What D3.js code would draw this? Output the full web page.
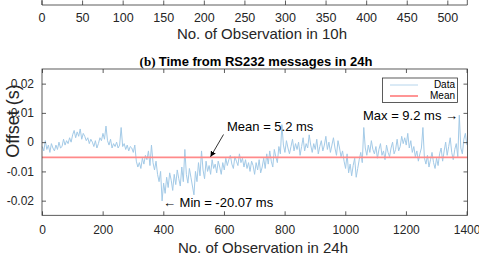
<!DOCTYPE html>
<html>
<head>
<meta charset="utf-8">
<script src="https://cdn.jsdelivr.net/npm/d3@7"></script>
<style>
  body { margin: 0; background: #fff; }
  svg { display: block; font-family: "Liberation Sans", Arial, sans-serif; }
</style>
</head>
<body>
<div id="chart"></div>
<script>
// 顶部残留：图(a)的横轴
const topTicks = [0, 50, 100, 150, 200, 250, 300, 350, 400, 450, 500];
const topXLabel = "No. of Observation in 10h";

// 图(b)：24h 内 RS232 时间偏差 (ms)，每 5 个观测取一个读数
const offsetMs = [
  -1.5, -3.0, 0.5, -2.5, -1.0, -3.5, -0.5, -2.0, -3.0, -1.0, -2.5, 0.0, -2.0, -1.5, 1.0, -1.0, 0.5, -0.5, 1.5, 0.0,
  2.5, 4.0, 1.5, 3.5, 2.0, 4.5, 1.0, 3.0, 2.0, 0.5, 1.5, -0.5, 1.0, 0.0, -1.5, 0.5, -2.0, -0.5, 1.5, 0.5,
  3.0, 1.0, 5.5, 0.5, -1.0, 1.0, -2.0, -0.5, -1.5, 0.0, -2.0, -1.0, 5.0, -1.5, -0.5, -2.5, -1.0, -3.0, -1.5, -2.0,
  -3.5, -1.0, -6.5, -8.5, -7.0, -9.0, -5.5, -7.5, -4.5, -6.0, -3.0, -8.0, -1.0, -7.0, -9.5, -6.5, -11.0, -13.5, -10.0, -20.07,
  -14.0, -17.5, -12.0, -15.5, -10.5, -13.0, -16.5, -11.0, -14.5, -9.5, -12.5, -15.0, -8.5, -13.5, -2.5, -11.0, -14.0, -9.0, -12.0, -15.0,
  -18.0, -10.0, -13.5, -7.0, -11.5, -3.0, -9.5, -12.5, -6.5, -10.0, -8.0, -11.0, -6.0, -9.0, -7.5, -10.5, -6.5, -8.5, -11.0, -7.0,
  -9.5, -5.5, -8.0, -6.0, -4.5, -7.5, -9.0, -5.0, -6.5, -8.0, -4.0, -7.0, -5.5, -8.5, -6.0, -9.0, -7.0, -10.0, -6.5, -8.0,
  -11.0, -7.0, -9.5, -6.0, -10.5, -8.5, -5.5, -9.0, -4.0, -7.5, -3.0, -6.5, -8.5, -2.5, -5.0, -7.0, -1.5, -4.0, 6.0, -1.0,
  -3.5, 0.5, -2.0, -4.0, -1.5, 1.0, -3.0, -0.5, -2.5, 0.0, -4.5, -1.5, 1.5, -3.0, -0.5, -2.0, 2.5, -1.0, -3.5, -0.5,
  -2.5, 1.0, -4.0, -1.5, 0.5, -3.0, -1.0, 2.0, -2.5, 0.0, -3.5, -1.0, 1.5, -2.0, -4.5, 0.5, -2.0, -5.0, -3.0, -6.5,
  -9.0, -4.0, -10.5, -7.5, -11.5, -8.0, -5.5, -12.0, -9.0, -6.0, -3.5, -7.0, 5.0, -2.0, -4.5, -1.0, -3.5, 0.5, -2.5, -4.0,
  -1.5, -5.5, -2.5, -0.5, -4.5, -3.0, -6.0, -1.0, -3.5, -5.0, -2.0, 0.0, -4.0, -2.5, 1.0, -3.0, -1.5, 2.0, -0.5, 1.5,
  -1.0, 3.0, -2.0, 0.5, -3.5, -1.5, -5.0, -3.0, -6.5, -4.0, -2.0, 5.0, -5.5, -7.5, -4.5, -8.5, -6.0, -3.5, -7.0, -9.0,
  -5.5, -8.0, -4.0, -2.0, -6.5, -3.0, 0.0, -4.5, -1.5, 1.5, -3.5, -6.0, -2.5, -0.5, -5.0, 9.2, -2.0, -4.0, 1.0, 3.0,
  -1.0
];
const obsStep = 5;
const meanOffset = -0.0052;
const xTicks = [0, 200, 400, 600, 800, 1000, 1200, 1400];
const yTicks = [-0.02, -0.01, 0, 0.01, 0.02];
const yTickLabels = ["-0.02", "-0.01", "0", "0.01", "0.02"];
const legendLabels = ["Data", "Mean"];

const width = 479, height = 258;
const svg = d3.select("#chart").append("svg")
  .attr("width", width)
  .attr("height", height);

const axisColor = "#333";
const dataColor = "#a3cae7";
const meanColor = "#ff8a8a";

// ---- 图(a) 残留横轴 ----
const xTop = d3.scaleLinear().domain([0, 524]).range([42, 467.3]);
const gTop = svg.append("g");
gTop.append("path")
  .attr("d", `M${xTop.range()[0]},-2V5H${xTop.range()[1]}V-2`)
  .attr("fill", "none").attr("stroke", axisColor).attr("stroke-width", 0.8);
gTop.selectAll(".tk").data(topTicks).enter().append("line")
  .attr("x1", d => xTop(d)).attr("x2", d => xTop(d))
  .attr("y1", 5).attr("y2", 0.5)
  .attr("stroke", axisColor).attr("stroke-width", 0.8);
gTop.selectAll(".tl").data(topTicks).enter().append("text")
  .attr("x", d => xTop(d)).attr("y", 21.5)
  .attr("text-anchor", "middle").attr("font-size", 12.5).attr("fill", "#262626")
  .text(d => d);
gTop.append("text")
  .attr("x", 262).attr("y", 38.5)
  .attr("text-anchor", "middle").attr("font-size", 15).attr("fill", "#262626")
  .text(topXLabel);

// ---- 图(b) ----
const m = { left: 42, right: 467.5, top: 69, bottom: 215.3 };
const x = d3.scaleLinear().domain([0, 1403]).range([m.left, m.right]);
const y = d3.scaleLinear().domain([-0.025, 0.025]).range([m.bottom, m.top]);

svg.append("text")
  .attr("x", 256).attr("y", 65.5)
  .attr("text-anchor", "middle").attr("font-size", 13).attr("font-weight", "bold")
  .attr("fill", "#000")
  .call(t => {
    t.append("tspan").attr("font-family", "'Liberation Serif', serif").text("(b) ");
    t.append("tspan").text("Time from RS232 messages in 24h");
  });

const g = svg.append("g");

// 数据线
const line = d3.line()
  .x((d, i) => x(1 + i * obsStep))
  .y(d => y(d / 1000));
g.append("path")
  .datum(offsetMs)
  .attr("d", line)
  .attr("fill", "none")
  .attr("stroke", dataColor)
  .attr("stroke-width", 1);

// 均值线
g.append("line")
  .attr("x1", m.left).attr("x2", m.right)
  .attr("y1", y(meanOffset)).attr("y2", y(meanOffset))
  .attr("stroke", meanColor).attr("stroke-width", 1.8);

// 坐标轴（刻度朝内）
const xAxis = d3.axisBottom(x).tickValues(xTicks).tickSize(-4).tickPadding(10)
  .tickFormat(d3.format("d")).tickSizeOuter(0);
g.append("g").attr("transform", `translate(0,${m.bottom})`).call(xAxis)
  .call(a => a.select(".domain").remove())
  .call(a => a.selectAll("line").attr("stroke", axisColor).attr("stroke-width", 0.8))
  .call(a => a.selectAll("text").attr("font-size", 12).attr("fill", "#262626").attr("font-family", null));
g.append("g").attr("transform", `translate(0,${m.top})`)
  .call(d3.axisTop(x).tickValues(xTicks).tickSize(-4).tickFormat("").tickSizeOuter(0))
  .call(a => a.select(".domain").remove())
  .call(a => a.selectAll("line").attr("stroke", axisColor).attr("stroke-width", 0.8));

const yAxis = d3.axisLeft(y).tickValues(yTicks).tickSize(-4).tickPadding(8)
  .tickFormat((d, i) => yTickLabels[i]).tickSizeOuter(0);
g.append("g").attr("transform", `translate(${m.left},0)`).call(yAxis)
  .call(a => a.select(".domain").remove())
  .call(a => a.selectAll("line").attr("stroke", axisColor).attr("stroke-width", 0.8))
  .call(a => a.selectAll("text").attr("font-size", 12).attr("fill", "#262626").attr("font-family", null));
g.append("g").attr("transform", `translate(${m.right},0)`)
  .call(d3.axisRight(y).tickValues(yTicks).tickSize(-4).tickFormat("").tickSizeOuter(0))
  .call(a => a.select(".domain").remove())
  .call(a => a.selectAll("line").attr("stroke", axisColor).attr("stroke-width", 0.8));

g.append("rect")
  .attr("x", m.left).attr("y", m.top)
  .attr("width", m.right - m.left).attr("height", m.bottom - m.top)
  .attr("fill", "none").attr("stroke", axisColor).attr("stroke-width", 0.8);

// 轴标题
svg.append("text")
  .attr("x", 263).attr("y", 253)
  .attr("text-anchor", "middle").attr("font-size", 15).attr("fill", "#262626")
  .text("No. of Observation in 24h");
svg.append("text")
  .attr("transform", "translate(19,121) rotate(-90)")
  .attr("text-anchor", "middle").attr("font-size", 18).attr("fill", "#262626")
  .text("Offset (s)");

// 图例
const lg = svg.append("g");
lg.append("rect")
  .attr("x", 382.5).attr("y", 78).attr("width", 75).attr("height", 24.5)
  .attr("fill", "#fff").attr("stroke", axisColor).attr("stroke-width", 0.8);
lg.selectAll(".ll").data(legendLabels).enter().append("line")
  .attr("x1", 390).attr("x2", 418)
  .attr("y1", (d, i) => 85 + i * 11).attr("y2", (d, i) => 85 + i * 11)
  .attr("stroke", (d, i) => i === 0 ? dataColor : meanColor)
  .attr("stroke-width", (d, i) => i === 0 ? 0.8 : 1.8);
lg.selectAll(".lt").data(legendLabels).enter().append("text")
  .attr("x", 455).attr("y", (d, i) => 88.3 + i * 11)
  .attr("text-anchor", "end").attr("font-size", 10).attr("fill", "#000")
  .text(d => d);

// 注释
svg.append("text")
  .attr("x", 458).attr("y", 119.5)
  .attr("text-anchor", "end").attr("font-size", 13).attr("fill", "#000")
  .text("Max = 9.2 ms \u2192");
svg.append("text")
  .attr("x", 227).attr("y", 131)
  .attr("font-size", 13).attr("fill", "#000")
  .text("Mean = 5.2 ms");
svg.append("defs").append("marker")
  .attr("id", "ah").attr("viewBox", "0 0 10 10").attr("refX", 10).attr("refY", 5)
  .attr("markerWidth", 7).attr("markerHeight", 7).attr("orient", "auto")
  .append("path").attr("d", "M0,0L10,5L0,10z").attr("fill", "#000");
svg.append("line")
  .attr("x1", 223.5).attr("y1", 134.5).attr("x2", 210.5).attr("y2", y(meanOffset) - 0.5)
  .attr("stroke", "#000").attr("stroke-width", 0.8).attr("marker-end", "url(#ah)");
svg.append("text")
  .attr("x", 163).attr("y", 206.5)
  .attr("font-size", 13).attr("fill", "#000")
  .text("\u2190 Min = -20.07 ms");
</script>
</body>
</html>
